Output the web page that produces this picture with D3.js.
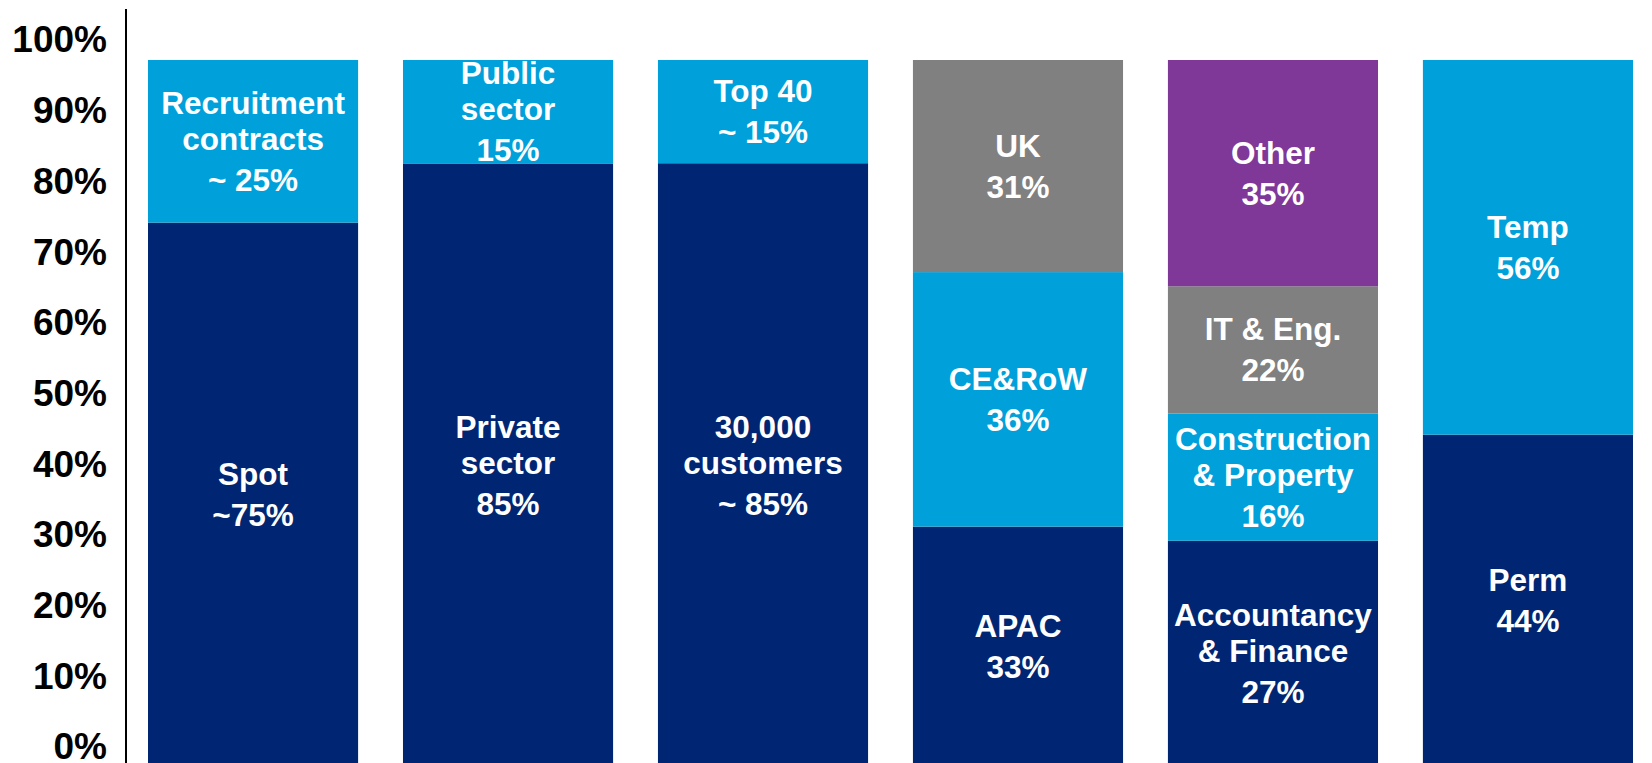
<!DOCTYPE html>
<html lang="en">
<head>
    <meta charset="UTF-8">
    <script src="https://d3js.org/d3.v7.min.js" charset="utf-8"></script>
    <title>Revenue mix</title>
    <style>
        body {
            margin: 0;
            background: white;
        }
        .chart text {
            font-family: "Liberation Sans", Arial, sans-serif;
            font-weight: bold;
        }
    </style>
</head>
<body>
<div class="chart"></div>

<script>
    // bars, left to right
    const categories = ["Contracts", "Sector", "Customers", "Region", "Discipline", "Type"];

    // segment shares per bar, bottom to top
    const segmentValues = [
        [77, 23],
        [85.3, 14.7],
        [85.4, 14.6],
        [34, 36, 30],
        [32, 18, 18, 32],
        [47, 53]
    ];

    // text inside each segment, bottom to top
    const segmentLabels = [
        [["Spot", "~75%"], ["Recruitment", "contracts", "~ 25%"]],
        [["Private", "sector", "85%"], ["Public", "sector", "15%"]],
        [["30,000", "customers", "~ 85%"], ["Top 40", "~ 15%"]],
        [["APAC", "33%"], ["CE&RoW", "36%"], ["UK", "31%"]],
        [["Accountancy", "& Finance", "27%"], ["Construction", "& Property", "16%"], ["IT & Eng.", "22%"], ["Other", "35%"]],
        [["Perm", "44%"], ["Temp", "56%"]]
    ];

    const yTicks = [0, 10, 20, 30, 40, 50, 60, 70, 80, 90, 100];

    const width = 1652;
    const height = 763;
    const axisX = 126;
    const axisTop = 9;

    // colour goes by position in the stack
    const color = d3.scaleOrdinal()
        .domain([0, 1, 2, 3])
        .range(["#002673", "#00A0DA", "#808080", "#7F3798"]);

    const x = d3.scaleBand()
        .domain(categories)
        .range([148, 1633])
        .paddingInner(0.176)
        .paddingOuter(0);

    const y = d3.scaleLinear()
        .domain([0, 100])
        .range([767, 60]);

    const svg = d3.select(".chart").append("svg")
        .attr("width", width)
        .attr("height", height);

    // stacked bars
    const bars = svg.selectAll("g.bar")
        .data(categories)
        .enter()
        .append("g")
        .attr("class", "bar");

    bars.each(function (cat, i) {
        const g = d3.select(this);
        let start = 0;
        const segs = segmentValues[i].map((v, j) => {
            const s = {start: start, end: start + v, index: j, lines: segmentLabels[i][j]};
            start += v;
            return s;
        });

        g.selectAll("rect")
            .data(segs)
            .enter()
            .append("rect")
            .attr("x", x(cat))
            .attr("width", x.bandwidth())
            .attr("y", d => y(d.end))
            .attr("height", d => y(d.start) - y(d.end))
            .attr("fill", d => color(d.index));

        // labels centred in each segment
        const nameGap = 36;
        const pctGap = 41;
        g.selectAll("text")
            .data(segs)
            .enter()
            .append("text")
            .attr("text-anchor", "middle")
            .attr("fill", "white")
            .attr("font-size", "31.5px")
            .each(function (d) {
                const n = d.lines.length;
                const offsets = d.lines.map((l, k) => k === 0 ? 0 : (k < n - 1 ? k * nameGap : (n - 2) * nameGap + pctGap));
                const total = offsets[n - 1];
                const cy = (y(d.start) + y(d.end)) / 2 - total / 2;
                d3.select(this).selectAll("tspan")
                    .data(d.lines)
                    .enter()
                    .append("tspan")
                    .attr("x", x(cat) + x.bandwidth() / 2)
                    .attr("y", (l, k) => cy + offsets[k])
                    .attr("dy", "0.35em")
                    .text(l => l);
            });
    });

    // y axis
    const axis = svg.append("g")
        .attr("transform", `translate(${axisX},0)`)
        .call(d3.axisLeft(y)
            .tickValues(yTicks)
            .tickFormat(d => d + "%")
            .tickSize(0)
            .tickPadding(19));

    axis.select(".domain").remove();
    axis.attr("font-size", null).attr("font-family", null);
    axis.selectAll("text")
        .attr("font-size", "37px")
        .attr("fill", "black")
        .attr("y", -21)
        .attr("dy", "0.35em");

    svg.append("line")
        .attr("x1", axisX)
        .attr("x2", axisX)
        .attr("y1", axisTop)
        .attr("y2", height)
        .attr("stroke", "black")
        .attr("stroke-width", 2);
</script>
</body>
</html>
